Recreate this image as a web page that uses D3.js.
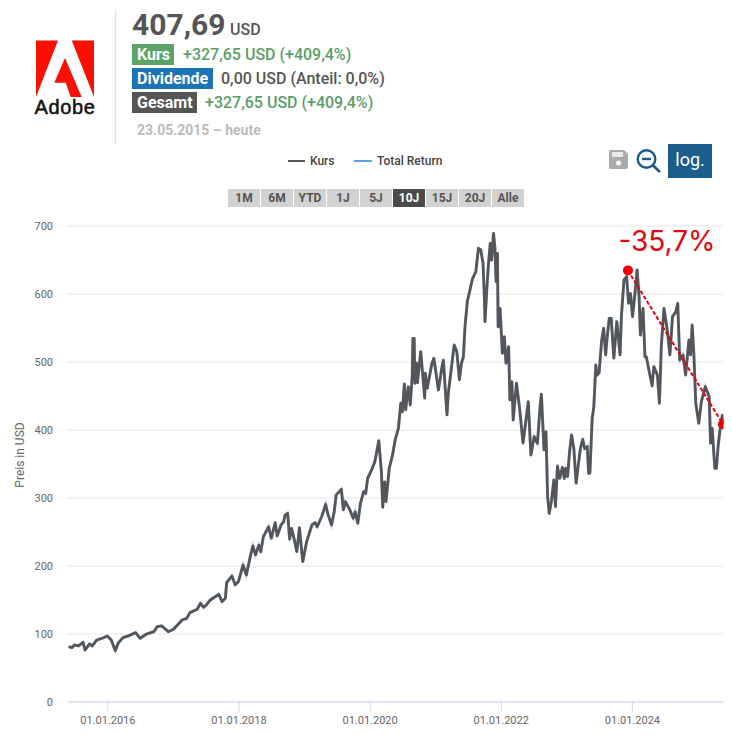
<!DOCTYPE html>
<html>
<head>
<meta charset="utf-8">
<script src="https://cdn.jsdelivr.net/npm/d3@7"></script>
<style>
  html, body { margin: 0; padding: 0; background: #fff; }
  svg { display: block; font-family: Roboto, sans-serif; }
</style>
</head>
<body>
<svg id="chart"></svg>
<script>
// Time as decimal year, price in USD
const years = [
  2015.41, 2015.46, 2015.50, 2015.56, 2015.63, 2015.66, 2015.73, 2015.77, 2015.84, 2015.92,
  2016.00, 2016.06, 2016.12, 2016.17, 2016.24, 2016.32, 2016.43, 2016.50, 2016.60, 2016.71,
  2016.76, 2016.83, 2016.93, 2017.01, 2017.14, 2017.21, 2017.26, 2017.37, 2017.42, 2017.47,
  2017.51, 2017.57, 2017.70, 2017.75, 2017.80, 2017.82, 2017.90, 2017.95, 2018.00, 2018.07,
  2018.12, 2018.18, 2018.22, 2018.26, 2018.31, 2018.34, 2018.38, 2018.46, 2018.50, 2018.56,
  2018.59, 2018.65, 2018.69, 2018.71, 2018.75, 2018.78, 2018.81, 2018.85, 2018.89, 2018.93,
  2018.98, 2019.04, 2019.12, 2019.17, 2019.20, 2019.27, 2019.33, 2019.36, 2019.42, 2019.46,
  2019.49, 2019.57, 2019.60, 2019.63, 2019.70, 2019.75, 2019.78, 2019.82, 2019.86, 2019.91,
  2019.94, 2019.97, 2020.03, 2020.08, 2020.14, 2020.18, 2020.20, 2020.23, 2020.25, 2020.30,
  2020.35, 2020.39, 2020.44, 2020.475, 2020.50, 2020.53, 2020.55, 2020.59, 2020.62, 2020.65,
  2020.66, 2020.68, 2020.69, 2020.72, 2020.73, 2020.78, 2020.84, 2020.85, 2020.88, 2020.95,
  2020.98, 2021.05, 2021.10, 2021.125, 2021.18, 2021.20, 2021.29, 2021.33, 2021.37, 2021.40,
  2021.43, 2021.455, 2021.49, 2021.53, 2021.57, 2021.62, 2021.66, 2021.695, 2021.73, 2021.75,
  2021.76, 2021.79, 2021.81, 2021.84, 2021.86, 2021.89, 2021.91, 2021.93, 2021.95, 2021.96,
  2021.99, 2022.025, 2022.055, 2022.08, 2022.12, 2022.14, 2022.17, 2022.19, 2022.24, 2022.29,
  2022.34, 2022.385, 2022.42, 2022.46, 2022.51, 2022.56, 2022.60, 2022.62, 2022.66, 2022.69,
  2022.715, 2022.74, 2022.775, 2022.81, 2022.835, 2022.865, 2022.90, 2022.94, 2022.97, 2022.99,
  2023.02, 2023.05, 2023.08, 2023.115, 2023.15, 2023.18, 2023.215, 2023.25, 2023.28, 2023.32,
  2023.34, 2023.36, 2023.395, 2023.42, 2023.45, 2023.47, 2023.50, 2023.54, 2023.57, 2023.60,
  2023.62, 2023.655, 2023.685, 2023.725, 2023.77, 2023.82, 2023.84, 2023.88, 2023.92, 2023.95,
  2023.98, 2024.01, 2024.045, 2024.08, 2024.11, 2024.13, 2024.15, 2024.17, 2024.20, 2024.22,
  2024.27, 2024.31, 2024.335, 2024.39, 2024.42, 2024.45, 2024.49, 2024.54, 2024.58, 2024.62,
  2024.67, 2024.70, 2024.73, 2024.78, 2024.82, 2024.87, 2024.895, 2024.92, 2024.945, 2024.975,
  2025.02, 2025.06, 2025.12, 2025.18, 2025.20, 2025.225, 2025.265, 2025.29, 2025.315, 2025.35,
  2025.38, 2025.39
];
const prices = [
  80.7, 79.2, 83.1, 81.7, 87, 75.8, 84.6, 81.7, 90.5, 93,
  96.4, 90.5, 74.8, 86.6, 93.9, 96.4, 101.3, 93, 99.3, 102.7,
  110.1, 111.1, 102.7, 106.2, 119.9, 122.3, 130.7, 135.6, 144.4, 138.5,
  142, 149.3, 157.6, 146.9, 151.8, 174.8, 184.6, 171.5, 176.4, 201,
  186, 213, 228.8, 215.6, 230, 220, 242.5, 257, 240, 263,
  243.5, 259.6, 264.6, 274, 276.8, 238.6, 254.7, 238.6, 220.4, 255.7,
  205.7, 235, 259.6, 263, 257, 272, 290, 276.8, 259.6, 279,
  303.7, 312, 281.7, 294, 281.7, 269.4, 279, 262, 291.5, 308.6,
  306, 328, 340.5, 352.7, 383.6, 338, 285.6, 323, 294, 343,
  362.6, 384.6, 402, 438.6, 426, 467, 429, 463, 436, 478,
  534, 534, 468, 497.4, 469, 514.5, 446, 483, 460.6, 497,
  504.7, 458, 490, 502, 421.4, 453, 524.4, 514.5, 473, 497,
  507, 551, 588, 605, 622, 632, 666.4, 664, 644.4, 595.4,
  558.6, 610, 639.5, 673.8, 649, 688.5, 669, 617.5, 659, 551,
  578, 512, 536.6, 497.4, 522, 443.5, 470.4, 414, 468, 429,
  380, 414, 441, 362.5, 389.5, 379.7, 433.6, 452, 370, 397,
  301, 276.5, 296, 326, 286.6, 346.4, 328, 344.4, 328, 343,
  330.7, 367.5, 392, 372, 321, 345.4, 372, 385.6, 372, 375,
  335.6, 336, 416.5, 433.7, 495, 480, 483, 531.7, 549, 509.6,
  531.7, 563.5, 563.5, 505, 558.6, 509.6, 566, 620, 624.8, 585.6,
  600, 566, 597.8, 634.6, 595.4, 539, 556, 578, 507, 507,
  482.7, 464, 492.5, 480, 438.6, 524, 578, 546.4, 509.6, 566,
  573, 585.6, 502.3, 509.6, 480, 531.7, 509.6, 553.7, 512, 438.6,
  409, 441, 463, 448, 380, 402, 343, 343, 375, 404,
  421, 407.69
];
const yTicks = [0, 100, 200, 300, 400, 500, 600, 700];
const xTicks = [2016, 2018, 2020, 2022, 2024];
const ranges = ["1M", "6M", "YTD", "1J", "5J", "10J", "15J", "20J", "Alle"];
const activeRange = "10J";
const drawdownYears = [2023.94, 2025.39];
const drawdownPrices = [634, 407.69];

const width = 732, height = 739;
const margin = {top: 225.5, bottom: 37.5, left: 68, right: 9};

const svg = d3.select("#chart")
  .attr("width", width)
  .attr("height", height);

const xScale = d3.scaleLinear()
  .domain([2015.40, 2025.39])
  .range([margin.left, width - margin.right]);

const yScale = d3.scaleLinear()
  .domain([0, 700])
  .range([height - margin.bottom, margin.top]);

// Marks stop at the right edge of the plot
svg.append("clipPath").attr("id", "plot")
  .append("rect").attr("x", margin.left).attr("y", 200)
  .attr("width", width - margin.right - margin.left + 0.5).attr("height", 510);

// Logo
const logo = svg.append("g").attr("fill", "#fa0f00");
logo.append("polygon").attr("points", "36,40.5 58,40.5 36,97");
logo.append("polygon").attr("points", "71.7,40.5 94,40.5 94,97");
logo.append("polygon").attr("points", "65,58 81.7,97 70.7,97 65.7,82.7 54.3,82.7");
svg.append("text").attr("x", 65).attr("y", 113.5)
  .attr("text-anchor", "middle")
  .style("font-family", "'Liberation Sans', Arial, sans-serif")
  .style("font-size", "20px").style("letter-spacing", "0.6px")
  .attr("fill", "#111").attr("stroke", "#111").attr("stroke-width", 0.5)
  .text("Adobe");

svg.append("line").attr("x1", 115.5).attr("x2", 115.5).attr("y1", 11).attr("y2", 144)
  .attr("stroke", "#e3e3e3").attr("stroke-width", 1.5);

// Header block
function label(x, y, size, weight, color, str) {
  return svg.append("text").attr("x", x).attr("y", y)
    .style("font-size", size + "px").style("font-weight", weight)
    .attr("fill", color).text(str);
}
function badge(x, y, w, color, str) {
  svg.append("rect").attr("x", x).attr("y", y).attr("width", w).attr("height", 21).attr("fill", color);
  label(x + 5, y + 16, 16, 700, "#fff", str);
}
label(132, 35, 30, 700, "#555", "407,69");
label(230, 35, 16, 500, "#555", "USD");
badge(132, 44, 42, "#5ba366", "Kurs");
label(183, 60, 16, 500, "#5c9e68", "+327,65 USD (+409,4%)");
badge(132, 68, 81, "#1b75b5", "Dividende");
label(221, 84, 16, 500, "#555", "0,00 USD (Anteil: 0,0%)");
badge(132, 92, 65, "#555555", "Gesamt");
label(205, 108, 16, 500, "#5c9e68", "+327,65 USD (+409,4%)");
label(137, 135, 14, 700, "#bbbbbb", "23.05.2015 – heute");

// Legend
svg.append("line").attr("x1", 288).attr("x2", 305).attr("y1", 161).attr("y2", 161)
  .attr("stroke", "#555").attr("stroke-width", 2);
label(310, 165, 12, 500, "#444", "Kurs");
svg.append("line").attr("x1", 354).attr("x2", 372).attr("y1", 161).attr("y2", 161)
  .attr("stroke", "#5aa2e0").attr("stroke-width", 2);
label(377, 165, 12, 500, "#444", "Total Return");

// Save icon, zoom icon, log button
svg.append("path")
  .attr("d", "M611,150H624L628,154V167a2,2 0 0 1 -2,2H611a2,2 0 0 1 -2,-2V152a2,2 0 0 1 2,-2Z")
  .attr("fill", "#aaa");
svg.append("rect").attr("x", 612).attr("y", 152).attr("width", 11).attr("height", 5).attr("fill", "#fff").attr("opacity", 0.75);
svg.append("circle").attr("cx", 618.5).attr("cy", 163).attr("r", 2.5).attr("fill", "#fff");
const zoomIcon = svg.append("g").attr("fill", "none").attr("stroke", "#1c5a8a").attr("stroke-width", 2.4);
zoomIcon.append("circle").attr("cx", 646.5).attr("cy", 159).attr("r", 8.8);
zoomIcon.append("line").attr("x1", 642).attr("x2", 651).attr("y1", 159).attr("y2", 159);
zoomIcon.append("line").attr("x1", 653).attr("x2", 660).attr("y1", 165.5).attr("y2", 172).attr("stroke-width", 2.8);
svg.append("rect").attr("x", 668).attr("y", 144).attr("width", 44).attr("height", 34).attr("fill", "#1a5e8e");
label(690, 166, 18, 400, "#fff", "log.").attr("text-anchor", "middle");

// Range buttons
const rangeScale = d3.scaleBand().domain(ranges).range([228, 525]);
svg.selectAll("rect.range").data(ranges).enter().append("rect")
  .attr("class", "range")
  .attr("x", d => rangeScale(d))
  .attr("y", 189).attr("width", 32).attr("height", 18)
  .attr("fill", d => d === activeRange ? "#4a4a4a" : "#d2d2d2");
svg.selectAll("text.range").data(ranges).enter().append("text")
  .attr("class", "range")
  .attr("x", d => rangeScale(d) + 16)
  .attr("y", 202)
  .attr("text-anchor", "middle")
  .style("font-size", "12px").style("font-weight", 700)
  .attr("fill", d => d === activeRange ? "#fff" : "#555")
  .text(d => d);

// Axes
const yAxis = svg.append("g")
  .attr("transform", `translate(${margin.left},0)`)
  .call(d3.axisLeft(yScale).tickValues(yTicks).tickSize(-(width - margin.left - margin.right)).tickPadding(15));
yAxis.select(".domain").remove();
yAxis.selectAll("line").attr("stroke", "#e6e6e6");
yAxis.selectAll("text").style("font-family", "Roboto, sans-serif").style("font-size", "11px").attr("fill", "#666");

const xAxis = svg.append("g")
  .attr("transform", `translate(0,${height - margin.bottom})`)
  .call(d3.axisBottom(xScale).tickValues(xTicks).tickFormat(d => "01.01." + d).tickSize(10).tickPadding(5).tickSizeOuter(0));
xAxis.select(".domain").attr("stroke", "#ccd6eb");
xAxis.selectAll("line").attr("stroke", "#ccd6eb");
xAxis.selectAll("text").style("font-family", "Roboto, sans-serif").style("font-size", "11px").attr("fill", "#666");

svg.append("text")
  .attr("transform", "translate(24,455) rotate(-90)")
  .attr("text-anchor", "middle")
  .style("font-size", "12px").attr("fill", "#666")
  .text("Preis in USD");

// Price lines (no dividends, so Total Return runs under Kurs)
const line = d3.line()
  .x((d, i) => xScale(years[i]))
  .y(d => yScale(d));

const plot = svg.append("g").attr("clip-path", "url(#plot)");
plot.append("path").datum(prices).attr("d", line)
  .attr("fill", "none").attr("stroke", "#5aa2e0").attr("stroke-width", 3).attr("opacity", 0.4);
plot.append("path").datum(prices).attr("d", line)
  .attr("fill", "none").attr("stroke", "#54565a").attr("stroke-width", 2.8).attr("stroke-linejoin", "round");

// Drawdown marker
plot.append("line")
  .attr("x1", xScale(drawdownYears[0])).attr("y1", yScale(drawdownPrices[0]))
  .attr("x2", xScale(drawdownYears[1])).attr("y2", yScale(drawdownPrices[1]))
  .attr("stroke", "#e8000c").attr("stroke-width", 2).attr("stroke-dasharray", "4 2");
plot.selectAll("circle.dd").data(drawdownPrices).enter().append("circle")
  .attr("class", "dd")
  .attr("cx", (d, i) => xScale(drawdownYears[i]))
  .attr("cy", d => yScale(d))
  .attr("r", 5).attr("fill", "#f00000");
svg.append("text").attr("x", 667).attr("y", 251)
  .attr("text-anchor", "middle")
  .style("font-family", "Inter, sans-serif").style("font-size", "28px").style("font-weight", 400)
  .attr("fill", "#e8000c").text("-35,7%");
</script>
</body>
</html>
